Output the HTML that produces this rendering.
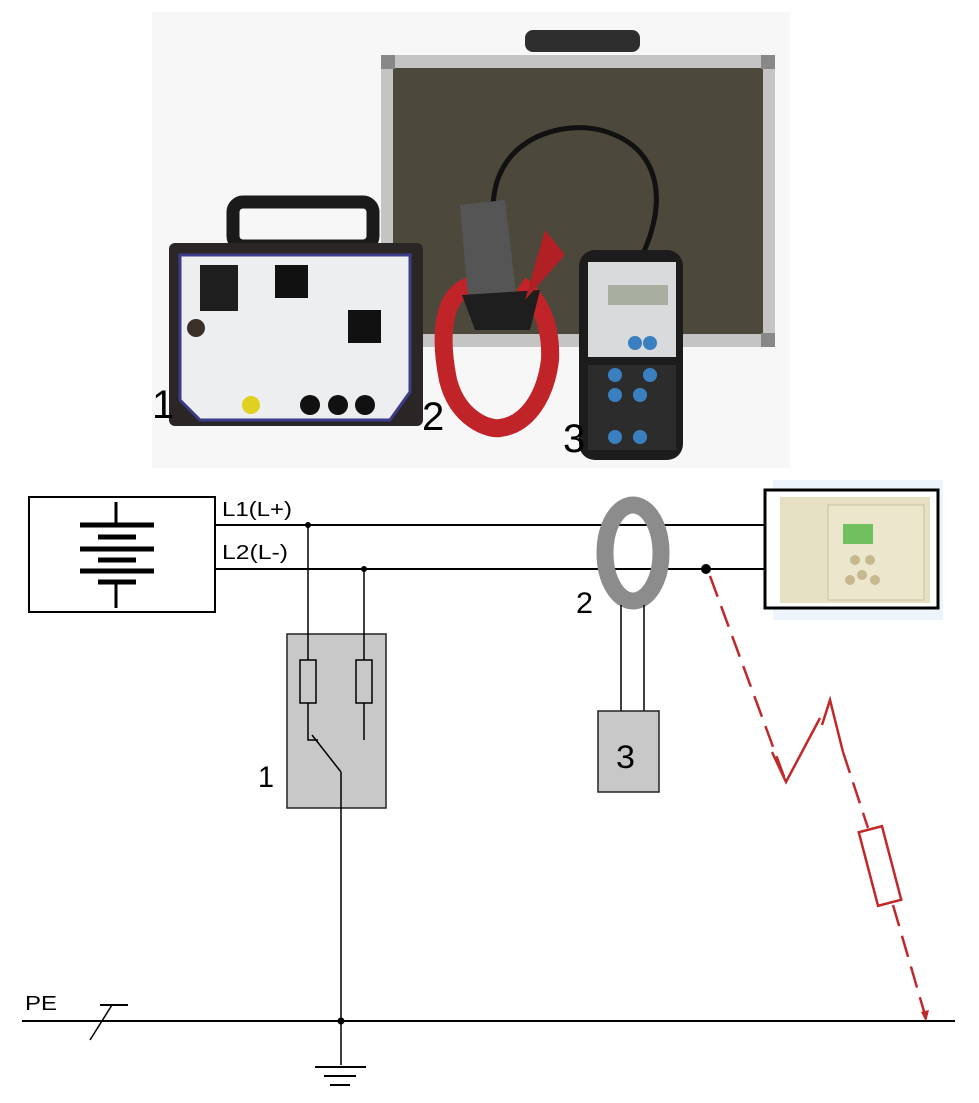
<!DOCTYPE html>
<html><head><meta charset="utf-8"><style>
html,body{margin:0;padding:0;background:#fff;}
svg{display:block;}
text{font-family:"Liberation Sans",sans-serif;}
</style></head><body>
<svg width="979" height="1103" viewBox="0 0 979 1103" xmlns="http://www.w3.org/2000/svg">
<rect x="152" y="12" width="638" height="456" fill="#f7f7f7"/>
<!-- suitcase -->
<rect x="525" y="30" width="115" height="22" rx="8" fill="#2e2e2e"/>
<rect x="381" y="55" width="394" height="292" rx="6" fill="#c4c4c4"/>
<rect x="393" y="68" width="370" height="266" fill="#4c483c"/>
<rect x="381" y="55" width="14" height="14" fill="#888"/><rect x="761" y="55" width="14" height="14" fill="#888"/>
<rect x="761" y="333" width="14" height="14" fill="#888"/>
<!-- cable -->
<path d="M495 230 C480 140 560 120 600 130 C660 145 670 200 640 260" fill="none" stroke="#111" stroke-width="5"/>
<!-- device 1 -->
<rect x="233" y="202" width="140" height="44" rx="10" fill="none" stroke="#1a1a1a" stroke-width="13"/>
<rect x="169" y="243" width="254" height="183" rx="6" fill="#2a2626"/>
<polygon points="180,255 410,255 410,392 390,420 200,420 180,400" fill="#eceef0" stroke="#3c3c8a" stroke-width="3"/>
<rect x="200" y="265" width="38" height="46" fill="#1e1e1e"/>
<rect x="275" y="265" width="33" height="33" fill="#111"/>
<rect x="348" y="310" width="33" height="33" fill="#111"/>
<circle cx="196" cy="328" r="9" fill="#3a3028"/>
<circle cx="251" cy="405" r="9" fill="#e0d020"/>
<circle cx="310" cy="405" r="10" fill="#111"/><circle cx="338" cy="405" r="10" fill="#111"/><circle cx="365" cy="405" r="10" fill="#111"/>
<!-- clamp -->
<path d="M475 285 C440 290 440 340 448 380 C458 420 490 430 500 428 C525 425 545 400 550 360 C552 320 535 295 520 285" fill="none" stroke="#c02428" stroke-width="18"/>
<path d="M460 205 L505 200 L518 310 L470 320 Z" fill="#555"/>
<path d="M462 295 L540 290 L530 330 L475 330 Z" fill="#1e1e1e"/>
<path d="M545 230 L565 255 L525 300 Z" fill="#b02024"/>
<!-- handheld -->
<rect x="579" y="250" width="104" height="210" rx="16" fill="#1c1c1c"/>
<rect x="588" y="262" width="88" height="95" fill="#d8dadc"/>
<rect x="608" y="285" width="60" height="20" fill="#a8aea0"/>
<rect x="588" y="365" width="88" height="85" fill="#2c2c2c"/>
<g fill="#3a80c0"><circle cx="635" cy="343" r="7"/><circle cx="650" cy="343" r="7"/><circle cx="615" cy="375" r="7"/><circle cx="650" cy="375" r="7"/><circle cx="615" cy="395" r="7"/><circle cx="640" cy="395" r="7"/><circle cx="615" cy="437" r="7"/><circle cx="640" cy="437" r="7"/></g>
<text x="152" y="418" font-size="40" transform="scale(1,1)">1</text>
<text x="422" y="430" font-size="40">2</text>
<text x="563" y="452" font-size="40">3</text>

<!-- battery box -->
<rect x="29" y="497" width="186" height="115" fill="#fff" stroke="#000" stroke-width="2"/>
<g stroke="#000" stroke-linecap="butt">
<line x1="116" y1="502" x2="116" y2="524" stroke-width="3"/>
<line x1="80" y1="525" x2="154" y2="525" stroke-width="5"/>
<line x1="98" y1="537" x2="136" y2="537" stroke-width="5"/>
<line x1="80" y1="549" x2="154" y2="549" stroke-width="5"/>
<line x1="98" y1="560" x2="136" y2="560" stroke-width="5"/>
<line x1="80" y1="571" x2="154" y2="571" stroke-width="5"/>
<line x1="98" y1="582" x2="136" y2="582" stroke-width="5"/>
<line x1="116" y1="582" x2="116" y2="608" stroke-width="3"/>
</g>
<text x="222" y="516" font-size="20" textLength="70" lengthAdjust="spacingAndGlyphs">L1(L+)</text>
<text x="222" y="559" font-size="20" textLength="66" lengthAdjust="spacingAndGlyphs">L2(L-)</text>
<line x1="215" y1="525" x2="770" y2="525" stroke="#000" stroke-width="2"/>
<line x1="215" y1="569" x2="770" y2="569" stroke="#000" stroke-width="2"/>
<circle cx="308" cy="525" r="3"/><circle cx="364" cy="569" r="3"/>
<!-- box 1 -->
<rect x="287" y="634" width="99" height="174" fill="#c8c8c8" stroke="#222" stroke-width="1.5"/>
<line x1="308" y1="525" x2="308" y2="660" stroke="#000" stroke-width="1.5"/>
<line x1="364" y1="569" x2="364" y2="660" stroke="#000" stroke-width="1.5"/>
<rect x="300" y="660" width="16" height="43" fill="none" stroke="#000" stroke-width="1.5"/>
<rect x="356" y="660" width="16" height="43" fill="none" stroke="#000" stroke-width="1.5"/>
<line x1="364" y1="703" x2="364" y2="740" stroke="#000" stroke-width="1.5"/>
<polyline points="308,703 308,740 318,740" fill="none" stroke="#000" stroke-width="1.5"/>
<line x1="312" y1="735" x2="341" y2="772" stroke="#000" stroke-width="1.5"/>
<line x1="341" y1="772" x2="341" y2="1065" stroke="#000" stroke-width="1.5"/>
<text x="258" y="787" font-size="30" textLength="16" lengthAdjust="spacingAndGlyphs">1</text>
<!-- ring -->
<ellipse cx="633" cy="553" rx="28" ry="48" fill="none" stroke="#8c8c8c" stroke-width="17"/>
<text x="576" y="613" font-size="30" textLength="17" lengthAdjust="spacingAndGlyphs">2</text>
<line x1="621" y1="605" x2="621" y2="711" stroke="#000" stroke-width="1.5"/>
<line x1="644" y1="605" x2="644" y2="711" stroke="#000" stroke-width="1.5"/>
<rect x="598" y="711" width="61" height="81" fill="#c8c8c8" stroke="#222" stroke-width="1.5"/>
<text x="616" y="768" font-size="32" textLength="19" lengthAdjust="spacingAndGlyphs">3</text>
<!-- relay -->
<rect x="773" y="480" width="170" height="140" fill="#eef4fb"/>
<rect x="765" y="490" width="173" height="118" fill="#fff" stroke="#000" stroke-width="3"/>
<rect x="780" y="497" width="150" height="106" fill="#e6e0c4"/>
<rect x="828" y="505" width="96" height="95" fill="#ece6cc" stroke="#c8c0a0"/>
<rect x="843" y="524" width="30" height="20" fill="#70c060"/>
<g fill="#c8b890"><circle cx="855" cy="560" r="5"/><circle cx="870" cy="560" r="5"/><circle cx="862" cy="575" r="5"/><circle cx="850" cy="580" r="5"/><circle cx="875" cy="580" r="5"/></g>
<!-- fault -->
<circle cx="706" cy="569" r="5"/>
<g stroke="#c0282a" stroke-width="2.5" fill="none">
<line x1="710" y1="576" x2="786" y2="782" stroke-dasharray="22,10"/>
<polyline points="772,752 786,782 820,718"/>
<polyline points="822,725 830,700 843,752"/>
<line x1="843" y1="752" x2="868" y2="828" stroke-dasharray="22,10"/>
<g transform="translate(880,866) rotate(-14.7)">
<rect x="-12" y="-38" width="24" height="76"/>
</g>
<line x1="893" y1="905" x2="925" y2="1015" stroke-dasharray="22,10"/>
</g>
<polygon points="921,1012 929,1010 926,1022" fill="#c0282a"/>
<!-- PE -->
<line x1="22" y1="1021" x2="955" y2="1021" stroke="#000" stroke-width="2"/>
<text x="25" y="1010" font-size="20" textLength="32" lengthAdjust="spacingAndGlyphs">PE</text>
<line x1="100" y1="1005" x2="128" y2="1005" stroke="#000" stroke-width="2"/>
<line x1="112" y1="1005" x2="90" y2="1040" stroke="#000" stroke-width="1.5"/>
<circle cx="341" cy="1021" r="3.5"/>
<line x1="315" y1="1067" x2="366" y2="1067" stroke="#000" stroke-width="2"/>
<line x1="324" y1="1076" x2="356" y2="1076" stroke="#000" stroke-width="2"/>
<line x1="330" y1="1085" x2="350" y2="1085" stroke="#000" stroke-width="2"/>
</svg>
</body></html>
